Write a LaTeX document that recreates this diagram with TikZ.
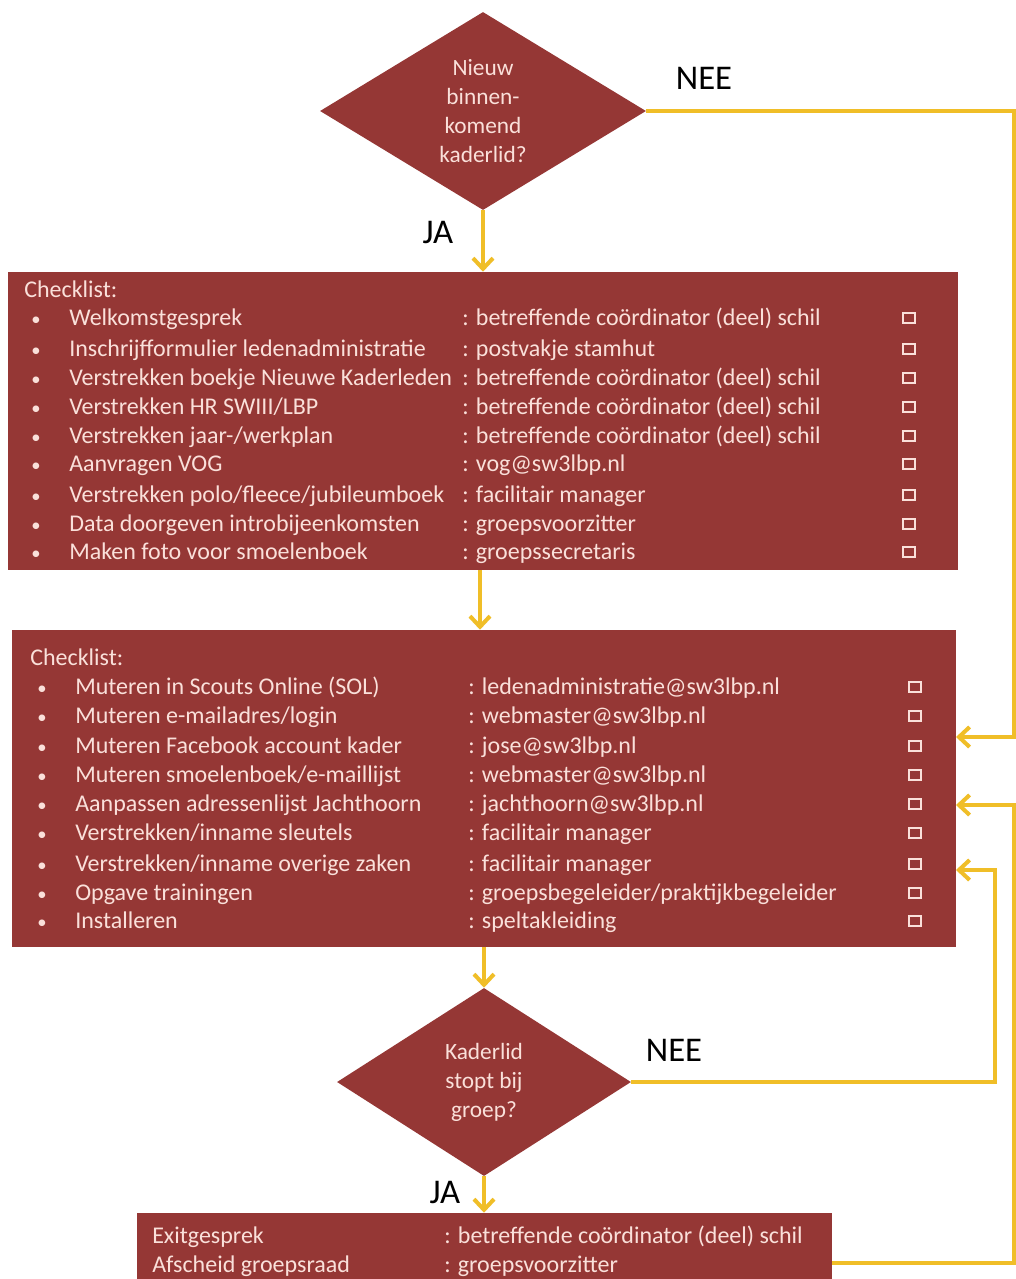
\documentclass[tikz,border=0pt]{standalone}
\usepackage{fontspec}
\setmainfont{Carlito}
\usetikzlibrary{arrows.meta,shapes.geometric}
\definecolor{boxred}{RGB}{149,55,53}
\definecolor{boxtxt}{RGB}{250,224,218}
\definecolor{flow}{RGB}{240,190,40}
\tikzset{
  box/.style={fill=boxred, draw=none, inner sep=0pt},
  decision/.style={diamond, fill=boxred, draw=none, inner sep=0pt, align=center,
    text=boxtxt, font=\fontsize{17.5}{21.75}\selectfont},
  txt/.style={text=boxtxt, font=\fontsize{18}{21.75}\selectfont, inner sep=0pt, anchor=mid west, yshift=-3pt},
  bul/.style={txt, font=\fontsize{14}{16}\selectfont},
  chk/.style={draw=boxtxt, line width=1.4pt, minimum width=8.5pt, minimum height=8pt, inner sep=0pt},
  lbl/.style={text=black, font=\fontsize{26}{30}\selectfont, inner sep=0pt},
  flowline/.style={draw=flow, line width=3pt},
  flowarrow/.style={flowline, -{Straight Barb[length=8pt,width=15pt,line width=3pt]}},
}
\newcommand\rowA[4]{%
  \node[bul] (#1b) at (31,#2) {•};
  \node[txt] (#1l) at (69,#2) {#3};
  \node[txt] (#1r) at (462,#2) {: #4};
  \node[chk] (#1c) at (909,#2) {};
}
\newcommand\rowB[4]{%
  \node[bul] (#1b) at (37,#2) {•};
  \node[txt] (#1l) at (75,#2) {#3};
  \node[txt] (#1r) at (468,#2) {: #4};
  \node[chk] (#1c) at (915,#2) {};
}
\begin{document}
\begin{tikzpicture}[x=0.75pt,y=-0.75pt]
\useasboundingbox[fill=white] (0,0) rectangle (1016,1279);

% decisions
\node[decision, minimum width=244.5pt, minimum height=148.5pt] (d1) at (483,111)
  {Nieuw\\binnen-\\komend\\kaderlid?};
\node[decision, minimum width=220.5pt, minimum height=141pt] (d2) at (484,1082)
  {Kaderlid\\stopt bij\\groep?};

% boxes
\node[box, minimum width=712.5pt, minimum height=223.5pt] (b1) at (483,421) {};
\node[box, minimum width=708pt, minimum height=237.75pt] (b2) at (484,788.5) {};
\node[box, minimum width=521.25pt, minimum height=49.5pt] (b3) at (484.5,1246) {};

% box 1 content
\node[txt] (h1) at (24,290) {Checklist:};
\rowA{a1}{318}{Welkomstgesprek}{betreffende coördinator (deel) schil}
\rowA{a2}{349}{Inschrijfformulier ledenadministratie}{postvakje stamhut}
\rowA{a3}{378}{Verstrekken boekje Nieuwe Kaderleden}{betreffende coördinator (deel) schil}
\rowA{a4}{407}{Verstrekken HR SWIII/LBP}{betreffende coördinator (deel) schil}
\rowA{a5}{436}{Verstrekken jaar-/werkplan}{betreffende coördinator (deel) schil}
\rowA{a6}{464}{Aanvragen VOG}{vog@sw3lbp.nl}
\rowA{a7}{495}{Verstrekken polo/fleece/jubileumboek}{facilitair manager}
\rowA{a8}{524}{Data doorgeven introbijeenkomsten}{groepsvoorzitter}
\rowA{a9}{552}{Maken foto voor smoelenboek}{groepssecretaris}

% box 2 content
\node[txt] (h2) at (30,658) {Checklist:};
\rowB{b1r}{687}{Muteren in Scouts Online (SOL)}{ledenadministratie@sw3lbp.nl}
\rowB{b2r}{716}{Muteren e-mailadres/login}{webmaster@sw3lbp.nl}
\rowB{b3r}{746}{Muteren Facebook account kader}{jose@sw3lbp.nl}
\rowB{b4r}{775}{Muteren smoelenboek/e-maillijst}{webmaster@sw3lbp.nl}
\rowB{b5r}{804}{Aanpassen adressenlijst Jachthoorn}{jachthoorn@sw3lbp.nl}
\rowB{b6r}{833}{Verstrekken/inname sleutels}{facilitair manager}
\rowB{b7r}{864}{Verstrekken/inname overige zaken}{facilitair manager}
\rowB{b8r}{893}{Opgave trainingen}{groepsbegeleider/praktijkbegeleider}
\rowB{b9r}{921}{Installeren}{speltakleiding}

% box 3 content
\node[txt] (e1l) at (152,1236) {Exitgesprek};
\node[txt] (e1r) at (444,1236) {: betreffende coördinator (deel) schil};
\node[txt] (e2l) at (152,1265) {Afscheid groepsraad};
\node[txt] (e2r) at (444,1265) {: groepsvoorzitter};

% labels
\node[lbl] (nee1) at (704,78) {NEE};
\node[lbl] (ja1) at (438,232) {JA};
\node[lbl] (nee2) at (674,1050) {NEE};
\node[lbl] (ja2) at (445,1192) {JA};

% helper coordinates
\coordinate (rx) at (1014,0);
\coordinate (ry) at (995,0);
\coordinate (in1) at (956,737);
\coordinate (in2) at (956,805);
\coordinate (in3) at (956,870);
\coordinate (out3) at (832,1263);
\coordinate (m2) at (480,0);

% connectors
\draw[flowarrow] (d1.south) -- (d1.south |- b1.north);
\draw[flowarrow] (m2 |- b1.south) -- (m2 |- b2.north);
\draw[flowarrow] (b2.south) -- (d2.north);
\draw[flowarrow] (d2.south) -- (d2.south |- b3.north);
\draw[flowarrow] (d1.east) -| (rx |- in1) -- (in1);
\draw[flowarrow] (d2.east) -| (ry |- in3) -- (in3);
\draw[flowarrow] (out3) -| (rx |- in2) -- (in2);
\end{tikzpicture}
\end{document}
